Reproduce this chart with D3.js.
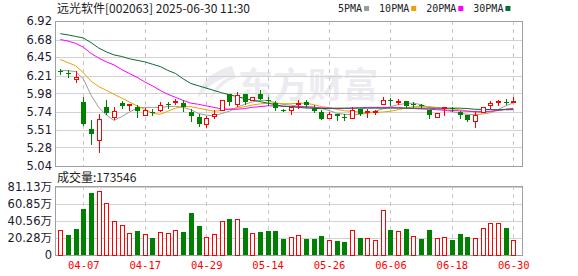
<!DOCTYPE html>
<html>
<head>
<meta charset="utf-8">
<script src="https://cdn.jsdelivr.net/npm/d3@7/dist/d3.min.js"></script>
<style>
body { margin: 0; background: #fff; }
svg { display: block; }
</style>
</head>
<body>
<div id="chart"></div>
<script>
// canvas + panel layout
var width = 578, height = 276;
var left = 55, right = 522;
var priceTop = 21, priceBottom = 166;
var volTop = 186, volBottom = 255;

// data
var dates = ['04-01','04-02','04-03','04-07','04-08','04-09','04-10','04-11','04-14','04-15',
    '04-16','04-17','04-18','04-21','04-22','04-23','04-24','04-25','04-28','04-29',
    '04-30','05-06','05-07','05-08','05-09','05-12','05-13','05-14','05-15','05-16',
    '05-19','05-20','05-21','05-22','05-23','05-26','05-27','05-28','05-29','05-30',
    '06-03','06-04','06-05','06-06','06-09','06-10','06-11','06-12','06-13','06-16',
    '06-17','06-18','06-19','06-20','06-23','06-24','06-25','06-26','06-27','06-30'];

var open = [6.27, 6.25, 6.165, 5.87, 5.52, 5.38, 5.80, 5.67, 5.86, 5.83,
    5.81, 5.70, 5.745, 5.77, 5.845, 5.875, 5.86, 5.74, 5.68, 5.59,
    5.685, 5.76, 5.97, 5.845, 5.97, 5.90, 5.97, 5.89, 5.86, 5.76,
    5.77, 5.84, 5.87, 5.79, 5.74, 5.665, 5.71, 5.68, 5.665, 5.78,
    5.74, 5.745, 5.845, 5.89, 5.875, 5.88, 5.845, 5.835, 5.76, 5.67,
    5.795, 5.79, 5.735, 5.695, 5.62, 5.74, 5.83, 5.865, 5.875, 5.875];
var high = [6.30, 6.28, 6.27, 5.93, 5.64, 5.71, 5.89, 5.81, 5.88, 5.845,
    5.83, 5.79, 5.78, 5.87, 5.87, 5.91, 5.89, 5.78, 5.71, 5.69,
    5.76, 5.89, 5.97, 6.00, 5.97, 5.94, 6.03, 5.94, 5.88, 5.78,
    5.80, 5.895, 5.89, 5.835, 5.76, 5.74, 5.72, 5.71, 5.81, 5.78,
    5.785, 5.77, 5.93, 5.92, 5.91, 5.88, 5.865, 5.85, 5.76, 5.73,
    5.805, 5.80, 5.75, 5.695, 5.75, 5.805, 5.88, 5.90, 5.91, 5.935];
var low = [6.23, 6.20, 6.135, 5.57, 5.32, 5.22, 5.72, 5.65, 5.79, 5.77,
    5.67, 5.70, 5.70, 5.75, 5.79, 5.84, 5.75, 5.62, 5.56, 5.55,
    5.665, 5.76, 5.825, 5.815, 5.84, 5.90, 5.91, 5.835, 5.77, 5.75,
    5.72, 5.79, 5.80, 5.74, 5.65, 5.665, 5.64, 5.64, 5.665, 5.695,
    5.67, 5.72, 5.845, 5.835, 5.84, 5.80, 5.80, 5.79, 5.665, 5.67,
    5.70, 5.755, 5.665, 5.62, 5.54, 5.74, 5.79, 5.835, 5.845, 5.875];
var close = [6.26, 6.24, 6.195, 5.58, 5.45, 5.65, 5.73, 5.755, 5.82, 5.84,
    5.75, 5.76, 5.735, 5.83, 5.835, 5.885, 5.805, 5.685, 5.59, 5.665,
    5.715, 5.89, 5.865, 5.965, 5.865, 5.93, 5.91, 5.885, 5.79, 5.755,
    5.80, 5.86, 5.825, 5.75, 5.65, 5.71, 5.69, 5.675, 5.76, 5.72,
    5.75, 5.755, 5.90, 5.88, 5.885, 5.815, 5.83, 5.82, 5.695, 5.73,
    5.80, 5.785, 5.695, 5.635, 5.695, 5.805, 5.86, 5.88, 5.87, 5.88];
var preClose = 6.20;

// volume in 万 shares
var volume = [29.6, 23.7, 30.8, 54.5, 73.4, 75.8, 61.6, 39.9, 35.2, 26.1,
    28.4, 24.9, 20.1, 26.8, 26.1, 29.2, 27.2, 49.7, 34.3, 20.9,
    24.9, 39.9, 42.6, 42.2, 32.0, 26.1, 27.2, 28.4, 28.4, 19.0,
    20.9, 23.3, 19.0, 19.0, 22.5, 17.8, 16.6, 15.4, 29.2, 20.1,
    19.7, 17.8, 52.9, 29.6, 28.0, 30.8, 22.1, 19.0, 29.6, 19.7,
    20.9, 17.8, 24.9, 21.3, 19.7, 31.6, 37.5, 37.5, 32.0, 17.3546];

var ma5 = [6.28, 6.275, 6.265, 6.17, 5.96, 5.80, 5.70, 5.63, 5.68, 5.74,
    5.79, 5.80, 5.80, 5.80, 5.81, 5.815, 5.80, 5.77, 5.72, 5.70,
    5.69, 5.72, 5.75, 5.80, 5.84, 5.87, 5.89, 5.89, 5.86, 5.84,
    5.83, 5.815, 5.81, 5.805, 5.785, 5.76, 5.725, 5.71, 5.705, 5.71,
    5.725, 5.75, 5.78, 5.81, 5.835, 5.85, 5.855, 5.835, 5.80, 5.78,
    5.765, 5.745, 5.725, 5.71, 5.705, 5.715, 5.73, 5.77, 5.82, 5.857];
var ma10 = [6.42, 6.38, 6.34, 6.25, 6.14, 6.07, 6.02, 5.97, 5.92, 5.87,
    5.82, 5.775, 5.725, 5.71, 5.75, 5.79, 5.81, 5.81, 5.79, 5.77,
    5.75, 5.76, 5.78, 5.79, 5.81, 5.83, 5.845, 5.855, 5.855, 5.848,
    5.848, 5.852, 5.855, 5.835, 5.81, 5.795, 5.775, 5.755, 5.75, 5.74,
    5.73, 5.735, 5.74, 5.75, 5.77, 5.79, 5.81, 5.81, 5.81, 5.80,
    5.79, 5.78, 5.77, 5.755, 5.74, 5.73, 5.745, 5.76, 5.775, 5.79];
var ma20 = [6.68, 6.66, 6.63, 6.58, 6.50, 6.44, 6.39, 6.35, 6.29, 6.24,
    6.19, 6.13, 6.08, 6.02, 5.97, 5.93, 5.89, 5.855, 5.84, 5.82,
    5.80, 5.78, 5.775, 5.775, 5.785, 5.80, 5.81, 5.82, 5.82, 5.815,
    5.81, 5.81, 5.805, 5.80, 5.795, 5.79, 5.785, 5.785, 5.79, 5.795,
    5.80, 5.80, 5.80, 5.80, 5.80, 5.79, 5.785, 5.78, 5.775, 5.77,
    5.765, 5.76, 5.755, 5.75, 5.745, 5.745, 5.75, 5.76, 5.775, 5.785];
var ma30 = [6.755, 6.74, 6.72, 6.70, 6.64, 6.57, 6.52, 6.48, 6.46, 6.43,
    6.41, 6.39, 6.36, 6.33, 6.28, 6.24, 6.17, 6.11, 6.08, 6.05,
    6.02, 5.99, 5.965, 5.94, 5.915, 5.895, 5.875, 5.855, 5.835, 5.815,
    5.81, 5.80, 5.793, 5.787, 5.784, 5.787, 5.79, 5.79, 5.79, 5.79,
    5.79, 5.79, 5.79, 5.79, 5.79, 5.79, 5.79, 5.79, 5.79, 5.79,
    5.79, 5.79, 5.79, 5.785, 5.775, 5.775, 5.772, 5.77, 5.77, 5.77];

var priceTicks = ['6.92', '6.68', '6.45', '6.21', '5.98', '5.74', '5.51', '5.28', '5.04'];
var volTicks = ['81.13万', '60.85万', '40.56万', '20.28万', '0'];
var dateTicks = ['04-07', '04-17', '04-29', '05-14', '05-26', '06-06', '06-18', '06-30'];
var maNames = ['5PMA', '10PMA', '20PMA', '30PMA'];

var maColors = ['#9c9c9c', '#f0a000', '#ff00ff', '#0b6b35'];
var upColor = '#ff0000', downColor = '#008000';
var title = '远光软件[002063] 2025-06-30 11:30';
var volTitle = '成交量:173546';

var svg = d3.select('#chart')
    .append('svg')
    .attr('width', width)
    .attr('height', height);

// scales
var xScale = d3.scalePoint()
    .domain(dates)
    .range([60.3, 513.3]);

var yScale = d3.scaleLinear()
    .domain([5.04, 6.92])
    .range([priceBottom, priceTop]);

var vScale = d3.scaleLinear()
    .domain([0, 81.13])
    .range([volBottom, volTop + 0.5]);

function cx(d){ return Math.round(xScale(d)); }

// watermark
var wm = svg.append('g').attr('fill', '#ebebf0');
wm.append('path')
    .attr('d', 'M232,66 C214,70 200,82 198,98 C206,88 216,80 230,76 C220,82 212,90 210,100 C220,86 228,80 236,78 Z');
wm.append('text')
    .attr('x', 238)
    .attr('y', 98)
    .attr('font-family', 'Noto Sans CJK SC')
    .attr('font-weight', 'bold')
    .attr('font-size', 35)
    .text('东方财富');

// horizontal grid
svg.append('g')
    .selectAll('line')
    .data(priceTicks)
    .enter()
    .append('line')
    .attr('x1', left)
    .attr('x2', right)
    .attr('y1', function(d){ return Math.round(yScale(+d)) + 0.5; })
    .attr('y2', function(d){ return Math.round(yScale(+d)) + 0.5; })
    .attr('stroke', '#d2d2d2');

svg.append('g')
    .selectAll('line')
    .data(volTicks)
    .enter()
    .append('line')
    .attr('x1', left)
    .attr('x2', right)
    .attr('y1', function(d){ return Math.round(vScale(parseFloat(d))) + 0.5; })
    .attr('y2', function(d){ return Math.round(vScale(parseFloat(d))) + 0.5; })
    .attr('stroke', '#d2d2d2');

// vertical dashed grid
[[priceTop, priceBottom], [volTop, volBottom]].forEach(function(p){
    svg.append('g')
        .selectAll('line')
        .data(dateTicks)
        .enter()
        .append('line')
        .attr('x1', function(d){ return cx(d) + 0.5; })
        .attr('x2', function(d){ return cx(d) + 0.5; })
        .attr('y1', p[0])
        .attr('y2', p[1])
        .attr('stroke', '#c8c8c8')
        .attr('stroke-dasharray', '4,4');
});

// frames
svg.append('rect')
    .attr('x', left + 0.5).attr('y', priceTop + 0.5)
    .attr('width', right - left).attr('height', priceBottom - priceTop)
    .attr('fill', 'none').attr('stroke', '#a0a0a0');
svg.append('rect')
    .attr('x', left + 0.5).attr('y', volTop + 0.5)
    .attr('width', right - left).attr('height', volBottom - volTop)
    .attr('fill', 'none').attr('stroke', '#a0a0a0');

// moving averages
var maData = [ma5, ma10, ma20, ma30];
maData.forEach(function(ma, k){
    var line = d3.line()
        .x(function(v, i){ return xScale(dates[i]); })
        .y(function(v){ return yScale(v); });
    svg.append('path')
        .attr('d', line(ma))
        .attr('fill', 'none')
        .attr('stroke', maColors[k])
        .attr('stroke-width', 1);
});

// candles
var candle = svg.append('g')
    .attr('shape-rendering', 'crispEdges')
    .selectAll('g')
    .data(dates)
    .enter()
    .append('g');

candle.append('line')
    .attr('x1', function(d){ return cx(d) + 0.5; })
    .attr('x2', function(d){ return cx(d) + 0.5; })
    .attr('y1', function(d, i){ return Math.round(yScale(high[i])); })
    .attr('y2', function(d, i){ return Math.round(yScale(low[i])) + 1; })
    .attr('stroke', function(d, i){ return close[i] >= open[i] ? upColor : downColor; });

candle.append('rect')
    .attr('x', function(d, i){ return close[i] >= open[i] ? cx(d) - 1.5 : cx(d) - 2; })
    .attr('y', function(d, i){
        var t = Math.round(yScale(Math.max(open[i], close[i])));
        return close[i] >= open[i] ? t + 0.5 : t;
    })
    .attr('width', function(d, i){ return close[i] >= open[i] ? 4 : 5; })
    .attr('height', function(d, i){
        var t = Math.round(yScale(Math.max(open[i], close[i])));
        var b = Math.round(yScale(Math.min(open[i], close[i])));
        return close[i] >= open[i] ? Math.max(b - t, 0) : Math.max(b - t, 1);
    })
    .attr('fill', function(d, i){ return close[i] >= open[i] ? '#fff' : downColor; })
    .attr('stroke', function(d, i){ return close[i] >= open[i] ? upColor : 'none'; });

// volume bars, coloured against the previous close
function isUp(i){ return close[i] >= (i === 0 ? preClose : close[i - 1]); }

svg.append('g')
    .attr('shape-rendering', 'crispEdges')
    .selectAll('rect')
    .data(volume)
    .enter()
    .append('rect')
    .attr('x', function(v, i){ return isUp(i) ? cx(dates[i]) - 1.5 : cx(dates[i]) - 2; })
    .attr('y', function(v, i){ return Math.round(vScale(v)) + (isUp(i) ? 0.5 : 0); })
    .attr('width', function(v, i){ return isUp(i) ? 4 : 5; })
    .attr('height', function(v, i){ return volBottom - Math.round(vScale(v)) - (isUp(i) ? 0.5 : 0); })
    .attr('fill', function(v, i){ return isUp(i) ? '#fff' : downColor; })
    .attr('stroke', function(v, i){ return isUp(i) ? upColor : 'none'; });

// axes labels
var yAxis = d3.axisLeft(yScale)
    .tickValues(priceTicks.map(Number))
    .tickFormat(function(d, i){ return priceTicks[i]; })
    .tickSize(0)
    .tickPadding(3);
var yAxisG = svg.append('g')
    .attr('transform', 'translate(' + left + ',0)')
    .call(yAxis);

var vAxis = d3.axisLeft(vScale)
    .tickValues(volTicks.map(parseFloat))
    .tickFormat(function(d, i){ return volTicks[i]; })
    .tickSize(0)
    .tickPadding(3);
var vAxisG = svg.append('g')
    .attr('transform', 'translate(' + left + ',0)')
    .call(vAxis);

[yAxisG, vAxisG].forEach(function(g){
    g.select('.domain').remove();
    g.selectAll('text')
        .attr('font-family', 'DejaVu Sans, Noto Sans CJK SC')
        .attr('font-size', 11.5)
        .attr('fill', '#1a1a2e');
});

var xAxis = d3.axisBottom(xScale)
    .tickValues(dateTicks)
    .tickSize(0)
    .tickPadding(7);
var xAxisG = svg.append('g')
    .attr('transform', 'translate(0,' + volBottom + ')')
    .call(xAxis);
xAxisG.select('.domain').remove();
xAxisG.selectAll('text')
    .attr('font-family', 'DejaVu Sans Mono')
    .attr('font-size', 10.5)
    .attr('fill', '#ff0000');

// title + legend
svg.append('text')
    .attr('x', 57)
    .attr('y', 13)
    .attr('font-family', 'Noto Sans CJK SC')
    .attr('font-size', 12)
    .attr('fill', '#222')
    .text(title);

svg.append('text')
    .attr('x', 57)
    .attr('y', 182)
    .attr('font-family', 'Noto Sans CJK SC')
    .attr('font-size', 12)
    .attr('fill', '#222')
    .text(volTitle);

var lx = 338;
maNames.forEach(function(name, k){
    var t = svg.append('text')
        .attr('x', lx)
        .attr('y', 12)
        .attr('font-family', 'DejaVu Sans Mono')
        .attr('font-size', 10)
        .attr('fill', '#222')
        .text(name);
    var w = t.node().getComputedTextLength();
    svg.append('rect')
        .attr('x', lx + w + 2)
        .attr('y', 6)
        .attr('width', 5)
        .attr('height', 5)
        .attr('fill', maColors[k]);
    lx = lx + w + 17;
});
</script>
</body>
</html>
